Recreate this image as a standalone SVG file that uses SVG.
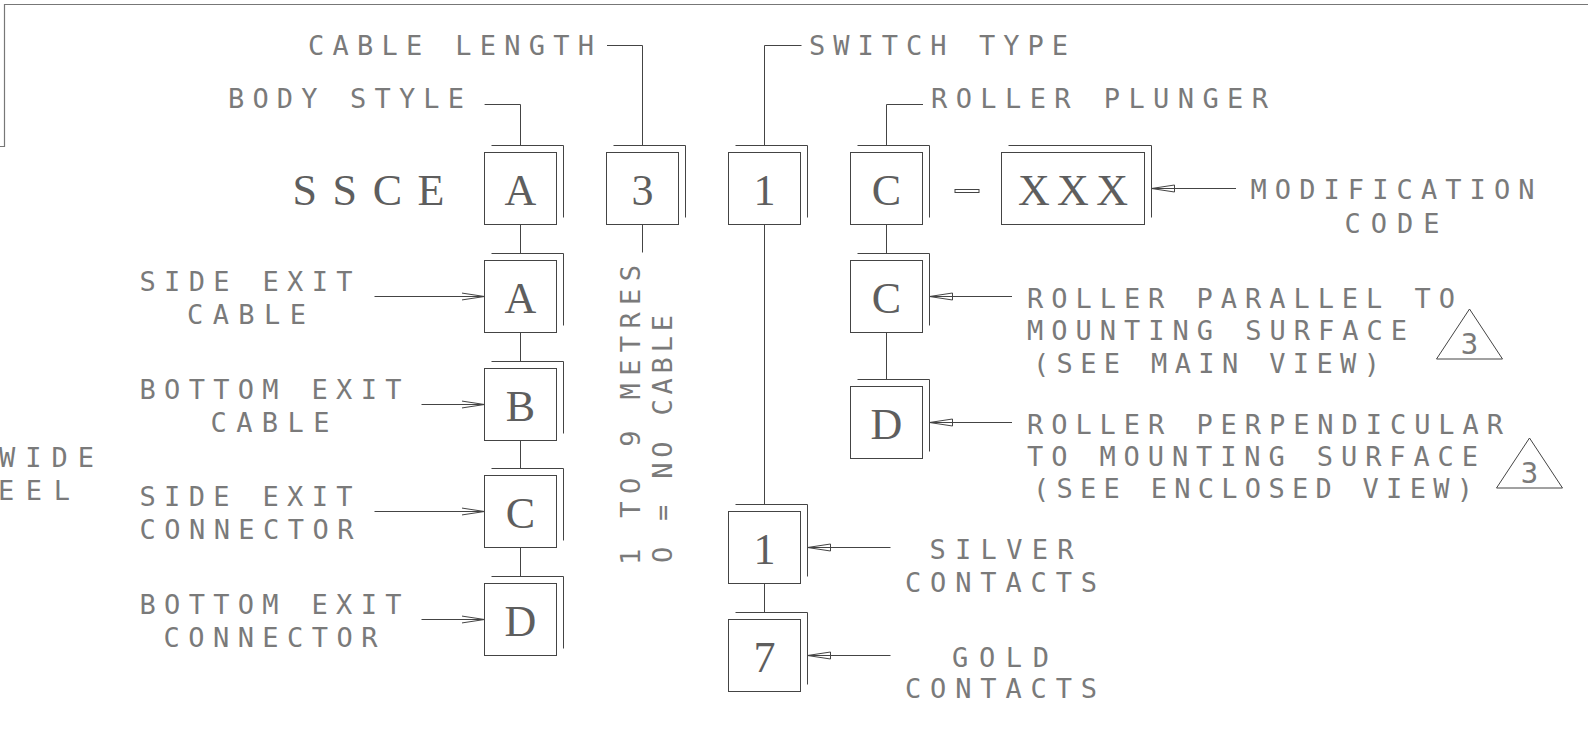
<svg xmlns="http://www.w3.org/2000/svg" width="1588" height="742" viewBox="0 0 1588 742">
<style>
.ln{stroke:#444;stroke-width:1;fill:none}
.bx{stroke:#444;stroke-width:1;fill:none}
.sh{stroke:#444;stroke-width:1;fill:none}
.lbl{font-family:"DejaVu Sans Mono","Liberation Mono",monospace;font-size:27px;fill:#7a7a7a}
.tri{font-family:"DejaVu Sans Mono","Liberation Mono",monospace;font-size:29px;fill:#7a7a7a;text-anchor:middle}
.ser{font-family:"Liberation Serif","DejaVu Serif",serif;font-size:44px;fill:#5e5e5e;text-anchor:middle}
</style>
<defs>
<marker id="ah" viewBox="0 -5 24 10" markerWidth="24" markerHeight="10" refX="23" refY="0" markerUnits="userSpaceOnUse" orient="auto">
<path d="M0,-3.5 L23,0 L0,3.5 Z" fill="none" stroke="#444" stroke-width="1"/>
</marker>
</defs>
<rect width="1588" height="742" fill="#fff"/>
<path d="M0,146.5 H4.5 V4.5 H1588" stroke="#777" stroke-width="1.2" fill="none"/>

<g id="connectors" class="ln">
<path d="M484.6,104.5 H520.5 V145.5"/>
<path d="M520.5,224.5 V253.5 M520.5,332.5 V361.5 M520.5,440.5 V468.5 M520.5,547.5 V576.5"/>
<path d="M607,45.5 H642.5 V145.5 M642.5,224.5 V252.5"/>
<path d="M801.5,45.5 H764.5 V145.5 M764.5,224.5 V504.5 M764.5,583.5 V612.5"/>
<path d="M923,104.5 H886.5 V145.5 M886.5,224.5 V253.5 M886.5,332.5 V379.5"/>
<path d="M374.5,296.5 H484.5" marker-end="url(#ah)"/>
<path d="M421.5,404.5 H484.5" marker-end="url(#ah)"/>
<path d="M374.5,511.5 H484.5" marker-end="url(#ah)"/>
<path d="M421.5,619.5 H484.5" marker-end="url(#ah)"/>
<path d="M1012,296.5 H929.5" marker-end="url(#ah)"/>
<path d="M1012,422.5 H929.5" marker-end="url(#ah)"/>
<path d="M1236,188.5 H1151.5" marker-end="url(#ah)"/>
<path d="M890.5,547.5 H807.5" marker-end="url(#ah)"/>
<path d="M890.5,655.5 H807.5" marker-end="url(#ah)"/>
</g>

<g id="prefix"><text class="ser" x="368.5" y="204.5" textLength="152" lengthAdjust="spacing">SSCE</text></g>

<g id="box-A"><path class="sh" d="M491.5,145.5 H563.5 V217.5"/><rect class="bx" x="484.5" y="152.5" width="72" height="72"/><text class="ser" x="520.5" y="204.5">A</text></g>
<g id="box-3"><path class="sh" d="M613.5,145.5 H685.5 V217.5"/><rect class="bx" x="606.5" y="152.5" width="72" height="72"/><text class="ser" x="642.5" y="204.5">3</text></g>
<g id="box-1"><path class="sh" d="M735.5,145.5 H807.5 V217.5"/><rect class="bx" x="728.5" y="152.5" width="72" height="72"/><text class="ser" x="764.5" y="204.5">1</text></g>
<g id="box-C"><path class="sh" d="M857.5,145.5 H929.5 V217.5"/><rect class="bx" x="850.5" y="152.5" width="72" height="72"/><text class="ser" x="886.5" y="204.5">C</text></g>
<g id="dash"><rect class="bx" x="955" y="189.5" width="24" height="3"/></g>
<g id="box-XXX"><path class="sh" d="M1008.5,145.5 H1151.5 V217.5"/><rect class="bx" x="1001.5" y="152.5" width="143" height="72"/><text class="ser" x="1073" y="204.5" textLength="110" lengthAdjust="spacing">XXX</text></g>

<g id="box-A2"><path class="sh" d="M491.5,253.5 H563.5 V325.5"/><rect class="bx" x="484.5" y="260.5" width="72" height="72"/><text class="ser" x="520.5" y="312.5">A</text></g>
<g id="box-B"><path class="sh" d="M491.5,361.5 H563.5 V433.5"/><rect class="bx" x="484.5" y="368.5" width="72" height="72"/><text class="ser" x="520.5" y="420.5">B</text></g>
<g id="box-C1"><path class="sh" d="M491.5,468.5 H563.5 V540.5"/><rect class="bx" x="484.5" y="475.5" width="72" height="72"/><text class="ser" x="520.5" y="527.5">C</text></g>
<g id="box-D1"><path class="sh" d="M491.5,576.5 H563.5 V648.5"/><rect class="bx" x="484.5" y="583.5" width="72" height="72"/><text class="ser" x="520.5" y="635.5">D</text></g>

<g id="box-C4"><path class="sh" d="M857.5,253.5 H929.5 V325.5"/><rect class="bx" x="850.5" y="260.5" width="72" height="72"/><text class="ser" x="886.5" y="312.5">C</text></g>
<g id="box-D4"><path class="sh" d="M857.5,379.5 H929.5 V451.5"/><rect class="bx" x="850.5" y="386.5" width="72" height="72"/><text class="ser" x="886.5" y="438.5">D</text></g>

<g id="box-1b"><path class="sh" d="M735.5,504.5 H807.5 V576.5"/><rect class="bx" x="728.5" y="511.5" width="72" height="72"/><text class="ser" x="764.5" y="563.5">1</text></g>
<g id="box-7"><path class="sh" d="M735.5,612.5 H807.5 V684.5"/><rect class="bx" x="728.5" y="619.5" width="72" height="72"/><text class="ser" x="764.5" y="671.5">7</text></g>

<g id="lbl-cable-length"><text class="lbl" x="308" y="54.5" textLength="286">CABLE LENGTH</text></g>
<g id="lbl-body-style"><text class="lbl" x="228" y="107.5" textLength="236">BODY STYLE</text></g>
<g id="lbl-switch-type"><text class="lbl" x="809" y="54.5" textLength="259">SWITCH TYPE</text></g>
<g id="lbl-roller-plunger"><text class="lbl" x="931" y="107.5" textLength="337">ROLLER PLUNGER</text></g>

<g id="lbl-side-exit-cable"><text class="lbl" x="139.5" y="291" textLength="213">SIDE EXIT</text><text class="lbl" x="187" y="324" textLength="119">CABLE</text></g>
<g id="lbl-bottom-exit-cable"><text class="lbl" x="139.5" y="399" textLength="262">BOTTOM EXIT</text><text class="lbl" x="210.5" y="431.7" textLength="119">CABLE</text></g>
<g id="lbl-side-exit-connector"><text class="lbl" x="139.5" y="506" textLength="213">SIDE EXIT</text><text class="lbl" x="139.5" y="539.3" textLength="214">CONNECTOR</text></g>
<g id="lbl-bottom-exit-connector"><text class="lbl" x="139.5" y="614.3" textLength="262">BOTTOM EXIT</text><text class="lbl" x="163.5" y="646.7" textLength="214">CONNECTOR</text></g>

<g id="lbl-cable-range"><text class="lbl" transform="translate(640,565) rotate(-90)" textLength="300">1 TO 9 METRES</text><text class="lbl" transform="translate(671.7,563) rotate(-90)" textLength="248">O = NO CABLE</text></g>

<g id="lbl-modification"><text class="lbl" x="1250.5" y="199.3" textLength="284">MODIFICATION</text><text class="lbl" x="1344.5" y="232.7" textLength="95">CODE</text></g>
<g id="lbl-roller-parallel"><text class="lbl" x="1027" y="307.5" textLength="428">ROLLER PARALLEL TO</text><text class="lbl" x="1027" y="340" textLength="380">MOUNTING SURFACE</text><text class="lbl" x="1033" y="372.5" textLength="347">(SEE MAIN VIEW)</text></g>
<g id="note-3a"><polygon class="ln" points="1469.5,309 1436.5,359 1502.5,359"/><text class="tri" x="1469.5" y="354">3</text></g>
<g id="lbl-roller-perp"><text class="lbl" x="1027" y="434" textLength="476">ROLLER PERPENDICULAR</text><text class="lbl" x="1027" y="466" textLength="451">TO MOUNTING SURFACE</text><text class="lbl" x="1033" y="498" textLength="440">(SEE ENCLOSED VIEW)</text></g>
<g id="note-3b"><polygon class="ln" points="1529.5,438 1496.5,488 1562.5,488"/><text class="tri" x="1529.5" y="483">3</text></g>
<g id="lbl-silver"><text class="lbl" x="929.5" y="559" textLength="144">SILVER</text><text class="lbl" x="905" y="591.7" textLength="192">CONTACTS</text></g>
<g id="lbl-gold"><text class="lbl" x="952" y="666.7" textLength="97">GOLD</text><text class="lbl" x="905" y="698.3" textLength="192">CONTACTS</text></g>
<g id="lbl-edge"><text class="lbl" x="-1" y="466.7" textLength="95">WIDE</text><text class="lbl" x="-2" y="500" textLength="72">EEL</text></g>
</svg>
